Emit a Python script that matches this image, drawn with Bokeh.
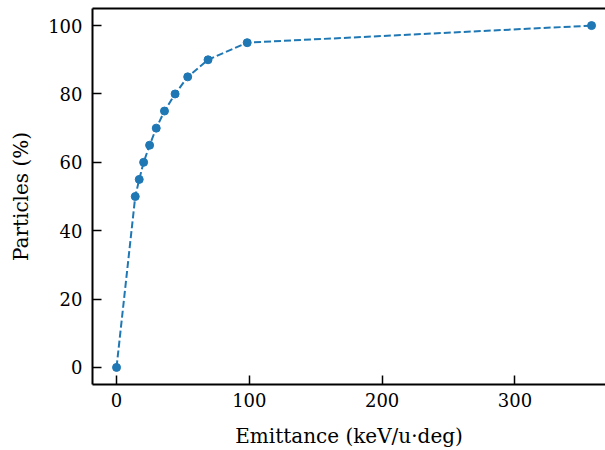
from bokeh.plotting import figure
from bokeh.models import LinearAxis, Range1d, FixedTicker
from bokeh.embed import file_html
from bokeh.resources import INLINE

emittance = [0, 14.1, 17.1, 20.4, 24.9, 29.9, 36.1, 44.1, 53.6, 68.9, 98.4, 357.7]
particles = [0, 50, 55, 60, 65, 70, 75, 80, 85, 90, 95, 100]
x_ticks = [0, 100, 200, 300]
y_ticks = [0, 20, 40, 60, 80, 100]

FONT = "DejaVu Serif"
COLOR = "#1f77b4"

p = figure(width=605, height=450, output_backend="svg", toolbar_location=None,
           x_range=Range1d(-18.1, 368.2), y_range=Range1d(-5, 105),
           min_border_left=92, min_border_right=0, min_border_top=8, min_border_bottom=66,
           x_axis_label="Emittance (keV/u·deg)", y_axis_label="Particles (%)")
p.outline_line_color = None
p.grid.visible = False
p.background_fill_color = "white"
p.border_fill_color = "white"

p.line(emittance, particles, line_color=COLOR, line_width=2, line_dash="7 3")
p.scatter(emittance, particles, size=8, fill_color=COLOR, line_color=COLOR)

p.xaxis.ticker = FixedTicker(ticks=x_ticks)
p.yaxis.ticker = FixedTicker(ticks=y_ticks)
for ax in (p.xaxis[0], p.yaxis[0]):
    ax.axis_line_width = 2
    ax.axis_line_color = "black"
    ax.major_tick_in = 9
    ax.major_tick_out = 0
    ax.major_tick_line_width = 1.5
    ax.major_tick_line_color = "black"
    ax.minor_tick_line_color = None
    ax.major_label_text_font = FONT
    ax.major_label_text_font_size = "18px"
    ax.major_label_text_color = "black"
    ax.axis_label_text_font = FONT
    ax.axis_label_text_font_size = "20px"
    ax.axis_label_text_font_style = "normal"
    ax.axis_label_text_color = "black"
p.xaxis.major_label_standoff = 8
p.yaxis.major_label_standoff = 10
p.xaxis.axis_label_standoff = 14
p.yaxis.axis_label_standoff = 12

top = LinearAxis(ticker=FixedTicker(ticks=[]), major_tick_line_color=None,
                 minor_tick_line_color=None, major_label_standoff=0,
                 axis_line_width=2, axis_line_color="black")
p.add_layout(top, "above")

open("out.html", "w").write(file_html(p, INLINE))
